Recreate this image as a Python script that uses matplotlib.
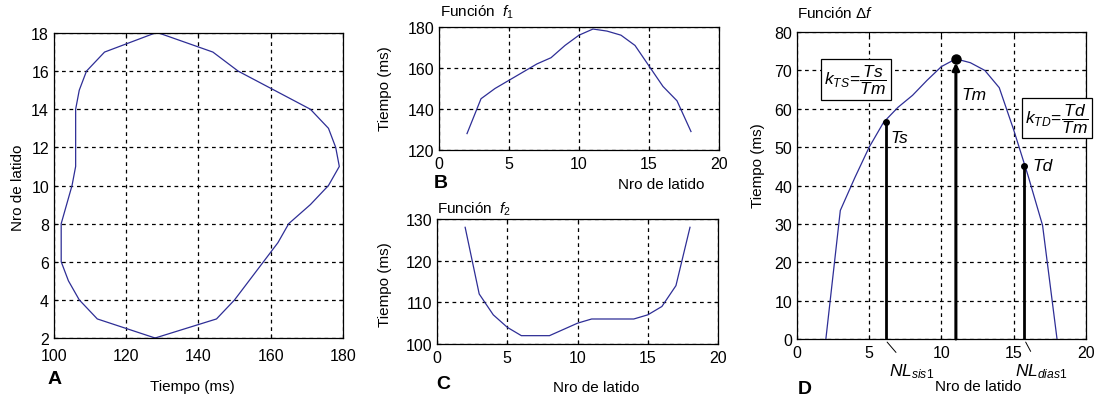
import numpy as np
import matplotlib.pyplot as plt

plt.rcParams['font.family'] = ['Liberation Sans', 'DejaVu Sans']
plt.rcParams['mathtext.fontset'] = 'custom'
plt.rcParams['mathtext.rm'] = 'Liberation Sans'
plt.rcParams['mathtext.it'] = 'Liberation Sans:italic'

# datos
latidos = [2, 3, 4, 5, 6, 7, 8, 9, 10, 11, 12, 13, 14, 15, 16, 17, 18]
f1 = [128, 145, 150, 154, 158, 162, 165, 171, 176, 179, 178, 176, 171, 161, 151, 144, 129]
f2 = [128, 112, 107, 104, 102, 102, 102, 103.5, 105, 106, 106, 106, 106, 107, 109, 114, 128]
delta_f = [0, 33.5, 42, 50, 56.5, 60.4, 63.5, 67.4, 71, 73, 72, 70, 65.5, 54.5, 42.5, 29.6, 0]

# puntos marcados en D: Ts, Tm, Td
marca_x = [6.14, 11.0, 15.73]
marca_y = [56.5, 73, 45]
marca_txt = ['Ts', 'Tm', 'Td']

LINEA = '#2e2e96'
TICK_FS = 11.5
LABEL_FS = 11

fig = plt.figure(figsize=(10.97, 4.02), dpi=100)


def estilo(ax):
    ax.grid(True, color='black', linestyle=(0, (3, 3)), linewidth=0.9)
    ax.tick_params(direction='in', top=True, right=True, length=3, labelsize=TICK_FS)
    ax.tick_params(axis='x', pad=4.5)
    ax.tick_params(axis='y', pad=3.5)
    for s in ax.spines.values():
        s.set_linewidth(0.9)


# A: lazo f1 / f2
axA = fig.add_axes([0.0492, 0.1567, 0.2634, 0.7587])
axA.plot(f1, latidos, color=LINEA, lw=0.9)
axA.plot(f2, latidos, color=LINEA, lw=0.9)
axA.set_xlim(100, 180)
axA.set_ylim(2, 18)
axA.set_xticks(np.arange(100, 181, 20))
axA.set_yticks(np.arange(2, 19, 2))
estilo(axA)
axA.tick_params(axis='x', pad=7)
fig.text(192 / 1097, 1 - 387 / 402, 'Tiempo (ms)', ha='center', va='center', fontsize=LABEL_FS)
fig.text(18 / 1097, 1 - 188 / 402, 'Nro de latido', ha='center', va='center', rotation=90, fontsize=LABEL_FS)
fig.text(48 / 1097, 1 - 380 / 402, 'A', ha='left', va='center', fontsize=14, fontweight='bold')

# B: funcion f1
axB = fig.add_axes([0.4002, 0.6244, 0.2552, 0.306])
axB.plot(latidos, f1, color=LINEA, lw=0.9)
axB.set_xlim(0, 20)
axB.set_ylim(120, 180)
axB.set_xticks([0, 5, 10, 15, 20])
axB.set_yticks([120, 140, 160, 180])
estilo(axB)
fig.text(440 / 1097, 1 - 12 / 402, r'Función  $f_1$', ha='left', va='center', fontsize=LABEL_FS)
fig.text(661 / 1097, 1 - 185 / 402, 'Nro de latido', ha='center', va='center', fontsize=LABEL_FS)
fig.text(385 / 1097, 1 - 89 / 402, 'Tiempo (ms)', ha='center', va='center', rotation=90, fontsize=LABEL_FS)
fig.text(434 / 1097, 1 - 184 / 402, 'B', ha='left', va='center', fontsize=14, fontweight='bold')

# C: funcion f2
axC = fig.add_axes([0.3984, 0.1418, 0.2562, 0.311])
axC.plot(latidos, f2, color=LINEA, lw=0.9)
axC.set_xlim(0, 20)
axC.set_ylim(100, 130)
axC.set_xticks([0, 5, 10, 15, 20])
axC.set_yticks([100, 110, 120, 130])
estilo(axC)
fig.text(437 / 1097, 1 - 209 / 402, r'Función  $f_2$', ha='left', va='center', fontsize=LABEL_FS)
fig.text(596 / 1097, 1 - 388 / 402, 'Nro de latido', ha='center', va='center', fontsize=LABEL_FS)
fig.text(385 / 1097, 1 - 285 / 402, 'Tiempo (ms)', ha='center', va='center', rotation=90, fontsize=LABEL_FS)
fig.text(436 / 1097, 1 - 385 / 402, 'C', ha='left', va='center', fontsize=14, fontweight='bold')

# D: funcion delta f
axD = fig.add_axes([0.7265, 0.1542, 0.2634, 0.7637])
axD.plot(latidos, delta_f, color=LINEA, lw=0.9)
axD.set_xlim(0, 20)
axD.set_ylim(0, 80)
axD.set_xticks([0, 5, 10, 15, 20])
axD.set_yticks(np.arange(0, 81, 10))
estilo(axD)

axD.vlines([marca_x[0], marca_x[2]], 0, [marca_y[0], marca_y[2]], color='black', lw=2, zorder=4)
axD.annotate('', xy=(marca_x[1], marca_y[1] - 1), xytext=(marca_x[1], 0),
             arrowprops=dict(arrowstyle='-|>', color='black', lw=2.2, mutation_scale=10,
                             shrinkA=0, shrinkB=0), zorder=4)
axD.plot(marca_x, marca_y, 'o', color='black', ms=4, zorder=5)
axD.plot(marca_x[1], marca_y[1], 'o', color='black', ms=6.5, zorder=5)

desp = [(0.3, -4.1), (0.4, -9.4), (0.55, 0.1)]
for x, y, t, (dx, dy) in zip(marca_x, marca_y, marca_txt, desp):
    axD.text(x + dx, y + dy, t, fontsize=12.5, style='italic', ha='left', va='center')

caja = dict(boxstyle='square,pad=0.2', facecolor='white', edgecolor='black', lw=0.9)
axD.text(4.08, 67.6, r'$k_{TS}\!=\!\dfrac{Ts}{Tm}$', fontsize=12.5, ha='center', va='center',
         bbox=caja, zorder=6, clip_on=False)
axD.text(15.8, 57.6, r'$k_{TD}\!=\!\dfrac{Td}{Tm}$', fontsize=12.5, ha='left', va='center',
         bbox=caja, zorder=6, clip_on=False)

# etiquetas NL con linea guia
axD.annotate(r'$NL_{sis1}$', xy=(marca_x[0] + 0.1, -0.8), xytext=(7.95, -8.3),
             fontsize=12.5, ha='center', va='center', annotation_clip=False,
             arrowprops=dict(arrowstyle='-', color='black', lw=0.7, shrinkA=6, shrinkB=0))
axD.annotate(r'$NL_{dias1}$', xy=(marca_x[2] + 0.1, -0.8), xytext=(16.9, -8.3),
             fontsize=12.5, ha='center', va='center', annotation_clip=False,
             arrowprops=dict(arrowstyle='-', color='black', lw=0.7, shrinkA=6, shrinkB=0))

fig.text(797 / 1097, 1 - 13 / 402, r'Función $\Delta f$', ha='left', va='center', fontsize=LABEL_FS)
fig.text(978 / 1097, 1 - 387 / 402, 'Nro de latido', ha='center', va='center', fontsize=LABEL_FS)
fig.text(758 / 1097, 1 - 166 / 402, 'Tiempo (ms)', ha='center', va='center', rotation=90, fontsize=LABEL_FS)
fig.text(798 / 1097, 1 - 390 / 402, 'D', ha='left', va='center', fontsize=14, fontweight='bold')

fig.savefig('out.png', dpi=100)
